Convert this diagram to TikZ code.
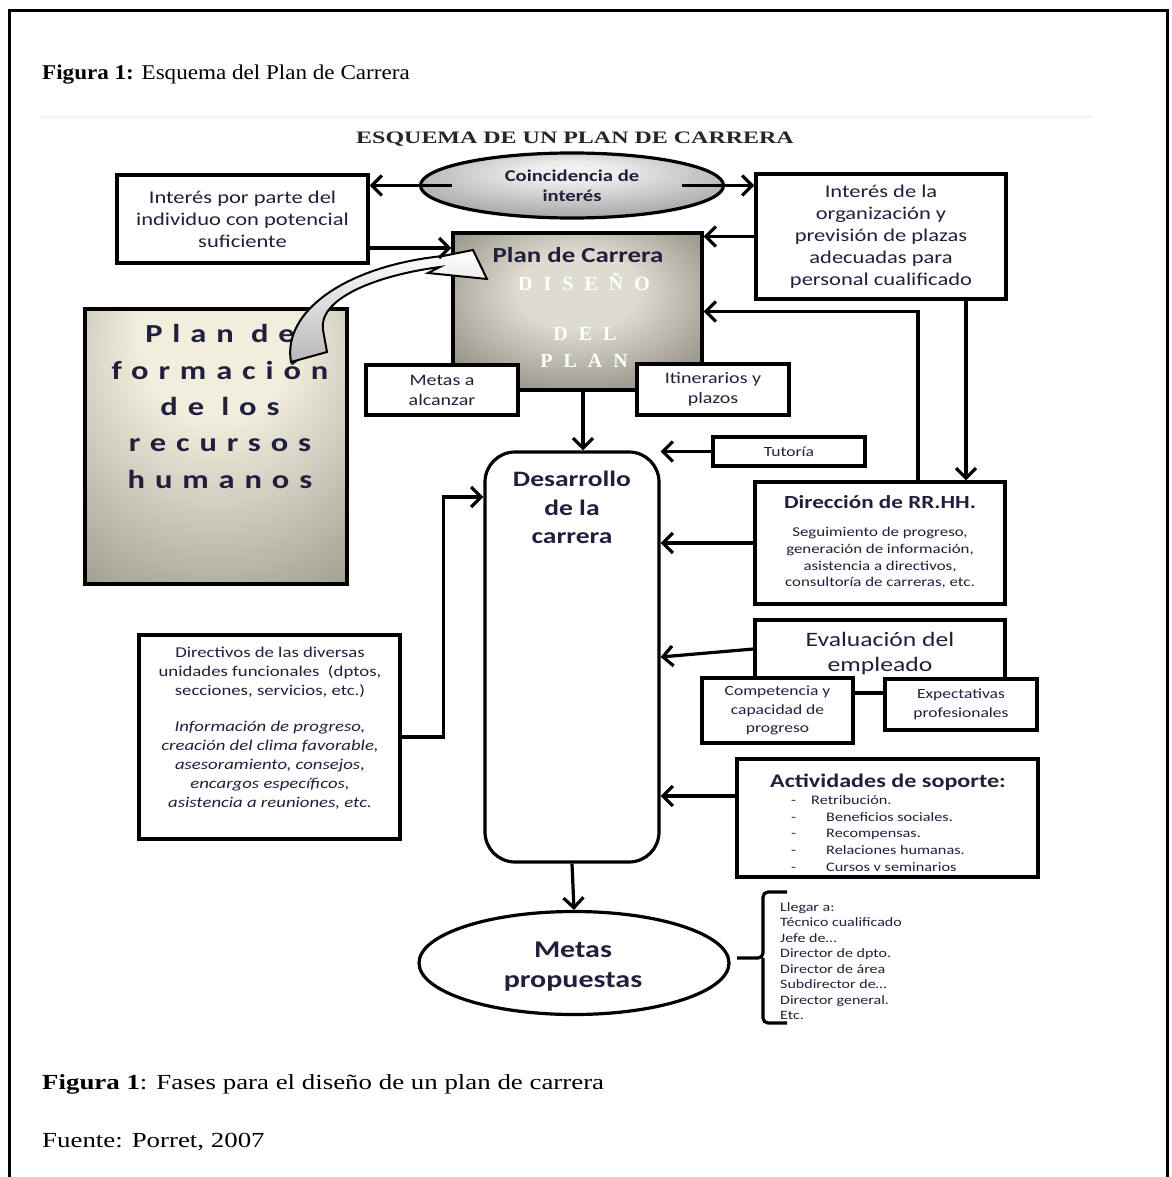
\documentclass[tikz,border=0pt]{standalone}
\usepackage{fontspec}
\setmainfont{Liberation Serif}[FakeStretch=1.1]
\newfontfamily\capb{Liberation Serif}[FakeStretch=1.25]
\newfontfamily\titf{Liberation Serif}[FakeStretch=1.37]
\newfontfamily\cf{Carlito}[FakeStretch=1.25]
\newfontfamily\cfsp{Carlito}[FakeStretch=1.25,LetterSpace=38]
\newfontfamily\sersp{Liberation Serif}[LetterSpace=55]
\usetikzlibrary{arrows.meta,shapes.geometric,calc}
\definecolor{txt}{RGB}{32,32,60}
\definecolor{pdark}{RGB}{88,85,74}
\definecolor{plight}{RGB}{222,220,208}
\definecolor{fdark}{RGB}{100,97,87}
\definecolor{fmid}{RGB}{158,155,143}
\definecolor{flight}{RGB}{242,238,222}
\pgfdeclareradialshading{plansh}{\pgfpoint{0bp}{8bp}}{color(0bp)=(plight); color(12bp)=(plight); color(50bp)=(pdark); color(75bp)=(pdark)}
\pgfdeclareradialshading{formsh}{\pgfpoint{0bp}{25bp}}{color(0bp)=(flight); color(15bp)=(flight); color(45bp)=(fmid); color(75bp)=(fdark)}
\pgfdeclareradialshading{coinsh}{\pgfpoint{0bp}{12bp}}{color(0bp)=(white!96!black); color(8bp)=(white!92!black); color(45bp)=(black!50); color(70bp)=(black!55)}
\tikzset{
  ln/.style={line width=3.2pt},
  bx/.style={draw, ln, fill=white, inner sep=0pt, text=txt, align=center, font=\cf},
  arr/.style={line width=3.2pt, -{Straight Barb[length=10pt,width=20pt]}},
  tx/.style={text=txt, align=center, inner sep=0pt},
}
\begin{document}
\begin{tikzpicture}[x=1pt,y=-1pt]
\useasboundingbox (0,0) rectangle (1171,1177);
\draw[line width=3pt] (9,1177) -- (9,11) -- (1167,11) -- (1167,1177);
\node[anchor=base west, inner sep=0pt, font=\fontsize{21}{25}\selectfont] (cap1) at (42,80) {\textbf{Figura 1:} Esquema del Plan de Carrera};
\draw[black!5, line width=1.5pt] (40,117) -- (1092,117);
\node[inner sep=0pt, font=\titf\bfseries\fontsize{17.5}{20}\selectfont, text=black!85] (title) at (575,139) {ESQUEMA DE UN PLAN DE CARRERA};

% top row
\node[bx, minimum width=251pt, minimum height=88pt, font=\cf\fontsize{18}{22}\selectfont] (indiv) at (242.5,219) {Interés por parte del\\individuo con potencial\\suficiente};
\node[bx, minimum width=250pt, minimum height=125pt, font=\cf\fontsize{18}{22}\selectfont] (org) at (881,236.5) {Interés de la\\organización y\\previsión de plazas\\adecuadas para\\personal cualificado};
\node[ellipse, draw, ln, shade, shading=coinsh, minimum width=303pt, minimum height=65pt, inner sep=0pt, text=txt, align=center, font=\cf\bfseries\fontsize{16.5}{20}\selectfont] (coinc) at (572,185.5) {Coincidencia de\\interés};

% plan de carrera
\node[draw, ln, shade, shading=plansh, minimum width=249pt, minimum height=157pt, inner sep=0pt] (plan) at (577.5,311.5) {};
\node[tx, font=\cf\bfseries\fontsize{21.5}{24}\selectfont] (plantit) at (578,255) {Plan de Carrera};
\node[tx, anchor=base, text=white, font=\sersp\bfseries\fontsize{20}{24}\selectfont] (dis) at (584,290) {DISEÑO};
\node[tx, anchor=base, text=white, font=\sersp\bfseries\fontsize{20}{24}\selectfont] (del) at (585,340) {DEL};
\node[tx, anchor=base, text=white, font=\sersp\bfseries\fontsize{20}{24}\selectfont] (pl) at (584,367) {PLAN};

% plan de formacion
\node[draw, ln, shade, shading=formsh, minimum width=262pt, minimum height=275pt, inner sep=0pt] (form) at (216,446.5) {};
\node[tx, font=\cfsp\bfseries\fontsize{26}{36.3}\selectfont] (formtxt) at (220,406.5) {Plan de\\formación\\de los\\recursos\\humanos};

% curved block arrow
\draw[line width=2pt, top color=white, bottom color=black!28] (291,362) .. controls (282,312) and (345,266) .. (443,256) -- (473,250) -- (487,279) -- (428,273) -- (440,267) .. controls (372,276) and (318,300) .. (323,330) -- (327,352) -- cycle;

\node[bx, minimum width=152pt, minimum height=50pt, font=\cf\fontsize{16}{20}\selectfont] (metasA) at (442,390) {Metas a\\alcanzar};
\node[bx, minimum width=152pt, minimum height=51pt, font=\cf\fontsize{16}{20}\selectfont] (itin) at (713,389.5) {Itinerarios y\\plazos};

% desarrollo
\node[draw, ln, fill=white, rounded corners=30pt, minimum width=174pt, minimum height=410pt, inner sep=0pt] (desa) at (572,657) {};
\node[tx, font=\cf\bfseries\fontsize{22}{28.5}\selectfont] (desatxt) at (572,507.5) {Desarrollo\\de la\\carrera};

% right column
\node[bx, minimum width=152pt, minimum height=29pt, font=\cf\fontsize{14}{16}\selectfont] (tut) at (789,451.5) {Tutoría};
\node[bx, minimum width=250pt, minimum height=122pt] (dir) at (880,543) {};
\node[tx, font=\cf\bfseries\fontsize{18.5}{20}\selectfont] (dirt) at (880,502) {Dirección de RR.HH.};
\node[tx, font=\cf\fontsize{13.5}{16.7}\selectfont] (dirb) at (880,558) {Seguimiento de progreso,\\generación de información,\\asistencia a directivos,\\consultoría de carreras, etc.};

\node[bx, minimum width=250pt, minimum height=73pt] (eval) at (880,656.5) {};
\node[tx, font=\cf\fontsize{20.5}{25}\selectfont] (evalt) at (880,654) {Evaluación del\\empleado};
\node[bx, minimum width=151pt, minimum height=65pt, font=\cf\fontsize{14}{18.5}\selectfont] (comp) at (777.5,710.5) {Competencia y\\capacidad de\\progreso};
\node[bx, minimum width=152pt, minimum height=51pt, font=\cf\fontsize{14}{18.5}\selectfont] (expe) at (961,704.5) {Expectativas\\profesionales};

\node[bx, minimum width=301pt, minimum height=118pt] (act) at (887.5,818) {};
\node[tx, font=\cf\bfseries\fontsize{19.3}{22}\selectfont] (actt) at (888,782) {Actividades de soporte:};
\node[tx, align=left, anchor=north west, font=\cf\fontsize{13}{16.8}\selectfont] (acti) at (791,795) {\makebox[20pt][l]{-}Retribución.\\\makebox[35pt][l]{-}Beneficios sociales.\\\makebox[35pt][l]{-}Recompensas.\\\makebox[35pt][l]{-}Relaciones humanas.\\\makebox[35pt][l]{-}Cursos v seminarios};

% directivos
\node[bx, minimum width=261pt, minimum height=204pt] (direc) at (269.5,737) {};
\node[tx, font=\cf\fontsize{15}{19}\selectfont] (direct) at (270,728) {Directivos de las diversas\\unidades funcionales~ (dptos,\\secciones, servicios, etc.)\\[17pt]\textit{Información de progreso,}\\\textit{creación del clima favorable,}\\\textit{asesoramiento, consejos,}\\\textit{encargos específicos,}\\\textit{asistencia a reuniones, etc.}};

% metas propuestas
\node[ellipse, draw, ln, fill=white, minimum width=310pt, minimum height=103pt, inner sep=0pt] (metasP) at (574,963) {};
\node[tx, font=\cf\bfseries\fontsize{24}{30}\selectfont] (metasPt) at (573,967) {Metas\\propuestas};
\node[tx, align=left, anchor=north west, font=\cf\fontsize{12.8}{15.5}\selectfont] (lista) at (780,902) {Llegar a:\\Técnico cualificado\\Jefe de…\\Director de dpto.\\Director de área\\Subdirector de…\\Director general.\\Etc.};
\draw[ln, rounded corners=5pt] (787,892) -- (763,892) -- (763,958) -- (737,958);
\draw[ln, rounded corners=5pt] (787,1023) -- (763,1023) -- (763,958);

% connectors
\draw[arr] ([xshift=33pt]coinc.west) -- (coinc.west -| indiv.east);
\draw[arr] ([xshift=-43pt]coinc.east) -- (coinc.east -| org.west);
\draw[arr] ([yshift=-29pt]indiv.east) -- ([yshift=-29pt]indiv.east -| plan.west);
\draw[arr] (org.west) -- (org.west -| plan.east);
\draw[arr] ([xshift=38pt]dir.north) |- (plan.east);
\draw[arr] ([xshift=85pt]org.south) -- ([xshift=85pt]org.south |- dir.north);
\draw[arr] ([xshift=5.5pt]plan.south) -- ([xshift=5.5pt]plan.south |- desa.north);
\draw[arr] (tut.west) -- (tut.west -| desa.east);
\draw[arr] (dir.west) -- (dir.west -| desa.east);
\draw[arr] ([yshift=7.5pt]eval.west) -- (desa.east);
\draw[arr] ([yshift=22pt]act.west) -- ([yshift=22pt]act.west -| desa.east);
\draw[arr] (direc.east) -- ++(42,0) |- ([yshift=160pt]desa.west);
\draw[arr] (desa.south) -- (metasP.north);

% captions
\node[anchor=base west, inner sep=0pt, font=\capb\fontsize{21.5}{25}\selectfont] (cap2) at (42,1089) {\textbf{Figura 1}: Fases para el diseño de un plan de carrera};
\node[anchor=base west, inner sep=0pt, font=\capb\fontsize{21.5}{25}\selectfont] (fuente) at (42,1147) {Fuente: Porret, 2007};
\end{tikzpicture}
\end{document}
